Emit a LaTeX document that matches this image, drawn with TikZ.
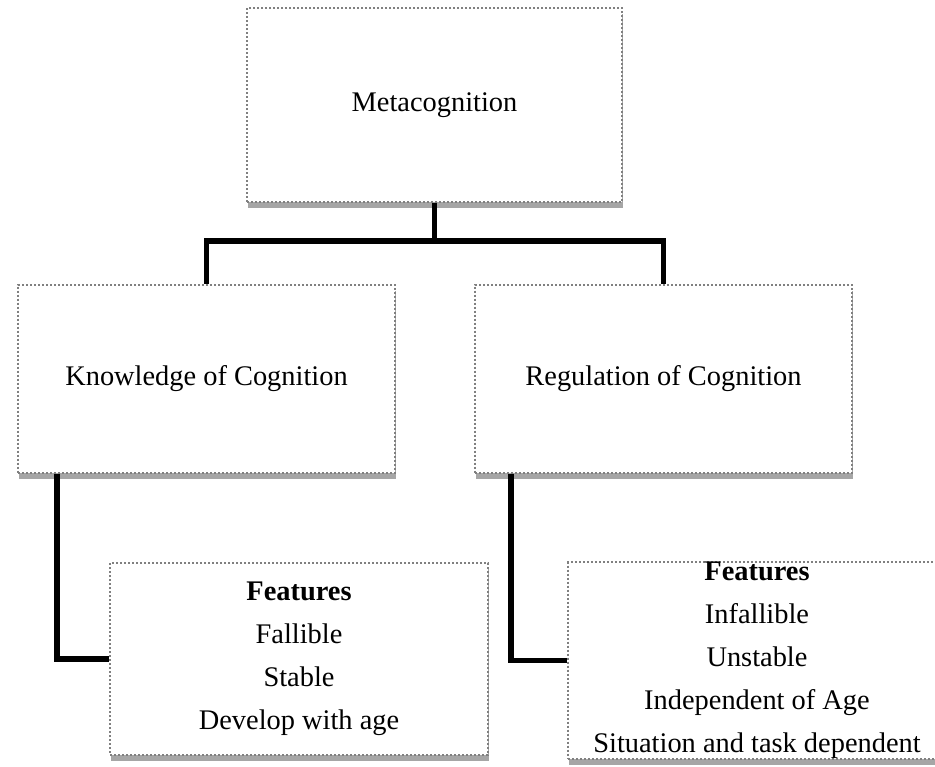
\documentclass[tikz,border=0pt]{standalone}
\usepackage{fontspec}
\setmainfont{Liberation Serif}
\usetikzlibrary{shadows}
\begin{document}
\begin{tikzpicture}[x=0.5pt, y=-0.5pt,
	box/.style={draw=gray, densely dotted, line width=1pt, fill=white, inner sep=0pt, align=center,
		font=\fontsize{14.2}{21.5}\selectfont,
		drop shadow={shadow xshift=0.5pt, shadow yshift=-3pt, fill=gray!70, opacity=1}},
	conn/.style={line width=2.7pt}]
	\clip (0,0) rectangle (935,766);
	
	% Nodes
	\node[box, minimum width=187.5pt, minimum height=97pt] (meta) at (434.5,105) {Metacognition};
	\node[box, minimum width=188.5pt, minimum height=94pt] (know) at (206.5,378.5) {Knowledge of Cognition};
	\node[box, minimum width=188.5pt, minimum height=94pt] (reg) at (663.5,378.5) {Regulation of Cognition};
	\node[box, minimum width=189pt, minimum height=96pt] (feat1) at (299,659)
		{\textbf{Features}\\Fallible\\Stable\\Develop with age};
	\node[box, minimum width=189pt, minimum height=97pt] (feat2) at (757,660.5)
		{\textbf{Features}\\Infallible\\Unstable\\Independent of Age\\Situation and task dependent};
	
	% Edges
	\draw[conn] (meta.south) -- ++(0,38) coordinate (hub);
	\draw[conn] (know.north) |- (hub) -| (reg.north);
	\draw[conn] (know.south west) ++(40,0) |- (feat1.west);
	\draw[conn] (reg.south west) ++(37,0) |- (feat2.west);
	
\end{tikzpicture}
\end{document}
